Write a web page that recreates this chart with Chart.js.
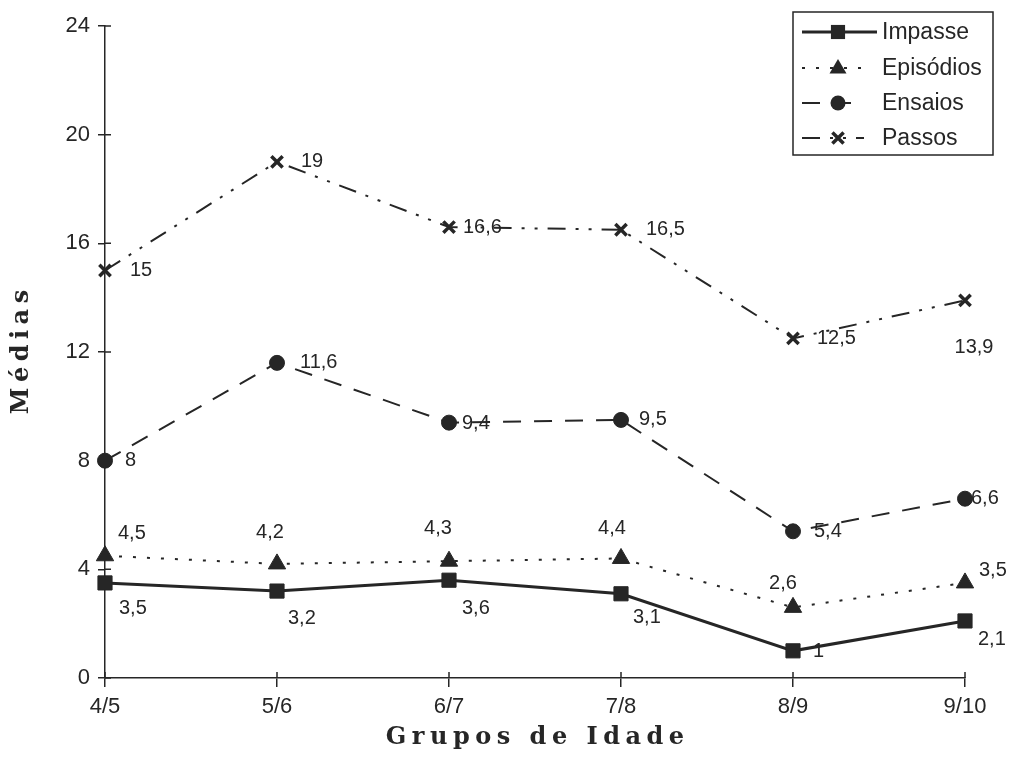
<!DOCTYPE html>
<html>
<head>
<meta charset="utf-8">
<title>Médias por grupos de idade</title>
<script src="https://cdn.jsdelivr.net/npm/chart.js@4"></script>
<style>
  html, body { margin: 0; padding: 0; background: #fff; }
  #wrap { width: 1016px; height: 776px; position: relative; }
</style>
</head>
<body>
<div id="wrap"><canvas id="myChart"></canvas></div>
<script>
// categorias e médias de cada medida
var grupos = ["4/5", "5/6", "6/7", "7/8", "8/9", "9/10"];
var impasse = [3.5, 3.2, 3.6, 3.1, 1, 2.1];
var episodios = [4.5, 4.2, 4.3, 4.4, 2.6, 3.5];
var ensaios = [8, 11.6, 9.4, 9.5, 5.4, 6.6];
var passos = [15, 19, 16.6, 16.5, 12.5, 13.9];
var ticksY = [0, 4, 8, 12, 16, 20, 24];

var ink = '#262626';
var fonteSans = '"Liberation Sans", Arial, sans-serif';

function virgula(v) {
  return String(v).replace('.', ',');
}

// marcador simples (usado tambem na legenda)
function marcador(ctx, estilo, r, x, y, lw) {
  ctx.save();
  ctx.fillStyle = ink;
  ctx.strokeStyle = ink;
  ctx.lineWidth = lw || 2;
  ctx.setLineDash([]);
  ctx.beginPath();
  if (estilo === 'rect') {
    var s = r * Math.SQRT1_2;
    ctx.rect(x - s, y - s, 2 * s, 2 * s);
    ctx.fill();
  } else if (estilo === 'triangle') {
    ctx.moveTo(x, y - r * 0.9);
    ctx.lineTo(x + r * 0.85, y + r * 0.55);
    ctx.lineTo(x - r * 0.85, y + r * 0.55);
    ctx.closePath();
    ctx.fill();
  } else if (estilo === 'circle') {
    ctx.arc(x, y, r, 0, Math.PI * 2);
    ctx.fill();
  } else {
    var c = r * 0.7;
    ctx.moveTo(x - c, y - c); ctx.lineTo(x + c, y + c);
    ctx.moveTo(x + c, y - c); ctx.lineTo(x - c, y + c);
    ctx.stroke();
  }
  ctx.restore();
}

// rótulos dos valores junto a cada ponto: [dx, dy, alinhamento]
var posRotulos = [
  [[14, 26, 'left'], [11, 27, 'left'], [13, 28, 'left'], [12, 24, 'left'], [20, 1, 'left'], [13, 19, 'left']],
  [[13, -22, 'left'], [-7, -31, 'center'], [-11, -33, 'center'], [-9, -30, 'center'], [-10, -24, 'center'], [14, -12, 'left']],
  [[20, 0, 'left'], [23, 0, 'left'], [13, 1, 'left'], [18, 0, 'left'], [21, 0, 'left'], [6, 0, 'left']],
  [[25, 0, 'left'], [24, 0, 'left'], [14, 0, 'left'], [25, 0, 'left'], [24, 0, 'left'], [9, 47, 'center']]
];

var rotulosPlugin = {
  id: 'rotulos',
  afterDatasetsDraw: function(chart) {
    var ctx = chart.ctx;
    ctx.save();
    ctx.font = '20px ' + fonteSans;
    ctx.fillStyle = ink;
    ctx.textBaseline = 'middle';
    chart.data.datasets.forEach(function(ds, i) {
      var meta = chart.getDatasetMeta(i);
      meta.data.forEach(function(pt, j) {
        var p = posRotulos[i][j];
        ctx.textAlign = p[2];
        ctx.fillText(virgula(ds.data[j]), pt.x + p[0], pt.y + p[1]);
      });
    });
    ctx.restore();
  }
};

// pequenos traços dos eixos para dentro da área do gráfico + títulos
var eixosPlugin = {
  id: 'eixos',
  afterDraw: function(chart) {
    var ctx = chart.ctx;
    var x = chart.scales.x, y = chart.scales.y;
    ctx.save();
    ctx.strokeStyle = ink;
    ctx.lineWidth = 1.5;
    ctx.beginPath();
    y.ticks.forEach(function(t) {
      var py = y.getPixelForValue(t.value);
      ctx.moveTo(x.left, py);
      ctx.lineTo(x.left + 6, py);
    });
    x.ticks.forEach(function(t, i) {
      var px = x.getPixelForTick(i);
      ctx.moveTo(px, y.bottom);
      ctx.lineTo(px, y.bottom - 6);
    });
    ctx.stroke();

    ctx.fillStyle = ink;
    ctx.font = 'bold 24px "DejaVu Serif", "Liberation Serif", serif';
    ctx.textAlign = 'center';
    ctx.textBaseline = 'middle';
    var esp = 5.5;
    ctx.letterSpacing = esp + 'px';
    ctx.fillText('Grupos de Idade', 535 + esp / 2, 738);
    ctx.translate(22, 352);
    ctx.rotate(-Math.PI / 2);
    ctx.fillText('Médias', esp / 2, 0);
    ctx.restore();
  }
};

// legenda em caixa no canto superior direito
var legendaPlugin = {
  id: 'legendaCaixa',
  afterDraw: function(chart) {
    var ctx = chart.ctx;
    var bx = 793, by = 12, bw = 200, bh = 143;
    ctx.save();
    ctx.fillStyle = '#fff';
    ctx.fillRect(bx, by, bw, bh);
    ctx.strokeStyle = ink;
    ctx.lineWidth = 1.5;
    ctx.strokeRect(bx, by, bw, bh);
    var linhas = [32, 68, 103, 138];
    chart.data.datasets.forEach(function(ds, i) {
      var ly = linhas[i];
      var fim = i === 0 ? 877 : 864;
      ctx.strokeStyle = ink;
      ctx.lineWidth = ds.borderWidth;
      ctx.setLineDash(ds.borderDash || []);
      ctx.beginPath();
      ctx.moveTo(802, ly);
      ctx.lineTo(fim, ly);
      ctx.stroke();
      marcador(ctx, ds.pointStyle, ds.pointRadius, 838, ly, ds.pointBorderWidth);
      ctx.setLineDash([]);
      ctx.fillStyle = ink;
      ctx.font = '23px ' + fonteSans;
      ctx.textAlign = 'left';
      ctx.textBaseline = 'middle';
      ctx.fillText(ds.label, 882, ly + 1);
    });
    ctx.restore();
  }
};

var ctx = document.getElementById('myChart').getContext('2d');
var chart = new Chart(ctx, {
  type: 'line',
  data: {
    labels: grupos,
    datasets: [{
      label: 'Impasse',
      data: impasse,
      borderColor: ink,
      backgroundColor: ink,
      borderWidth: 3,
      pointStyle: 'rect',
      pointRadius: 10,
      pointBorderWidth: 1
    }, {
      label: 'Episódios',
      data: episodios,
      borderColor: ink,
      backgroundColor: ink,
      borderWidth: 2,
      borderDash: [3, 11],
      pointStyle: 'triangle',
      pointRadius: 10,
      pointBorderWidth: 1
    }, {
      label: 'Ensaios',
      data: ensaios,
      borderColor: ink,
      backgroundColor: ink,
      borderWidth: 2,
      borderDash: [18, 13],
      pointStyle: 'circle',
      pointRadius: 7.5,
      pointBorderWidth: 1
    }, {
      label: 'Passos',
      data: passos,
      borderColor: ink,
      backgroundColor: ink,
      borderWidth: 2,
      borderDash: [18, 10, 3, 10, 3, 10],
      pointStyle: 'crossRot',
      pointRadius: 8,
      pointBorderWidth: 3.5
    }]
  },
  options: {
    responsive: true,
    maintainAspectRatio: false,
    animation: false,
    devicePixelRatio: 1,
    layout: { padding: { left: 0, right: 51, top: 26, bottom: 0 } },
    plugins: {
      legend: { display: false },
      tooltip: { enabled: false }
    },
    scales: {
      x: {
        offset: false,
        grid: { display: true, drawOnChartArea: false, drawTicks: true, tickLength: 9, color: ink, lineWidth: 1.5 },
        border: { color: ink, width: 1.5 },
        ticks: {
          color: ink,
          padding: 7,
          maxRotation: 0,
          font: { family: fonteSans, size: 22 }
        },
        afterFit: function(s) { s.height = 98; }
      },
      y: {
        min: 0,
        max: 24,
        afterBuildTicks: function(s) {
          s.ticks = ticksY.map(function(v) { return { value: v }; });
        },
        grid: { display: true, drawOnChartArea: false, drawTicks: true, tickLength: 7, color: ink, lineWidth: 1.5 },
        border: { color: ink, width: 1.5 },
        ticks: {
          color: ink,
          padding: 8,
          font: { family: fonteSans, size: 22 }
        },
        afterFit: function(s) { s.width = 105; }
      }
    }
  },
  plugins: [rotulosPlugin, eixosPlugin, legendaPlugin]
});
</script>
</body>
</html>
